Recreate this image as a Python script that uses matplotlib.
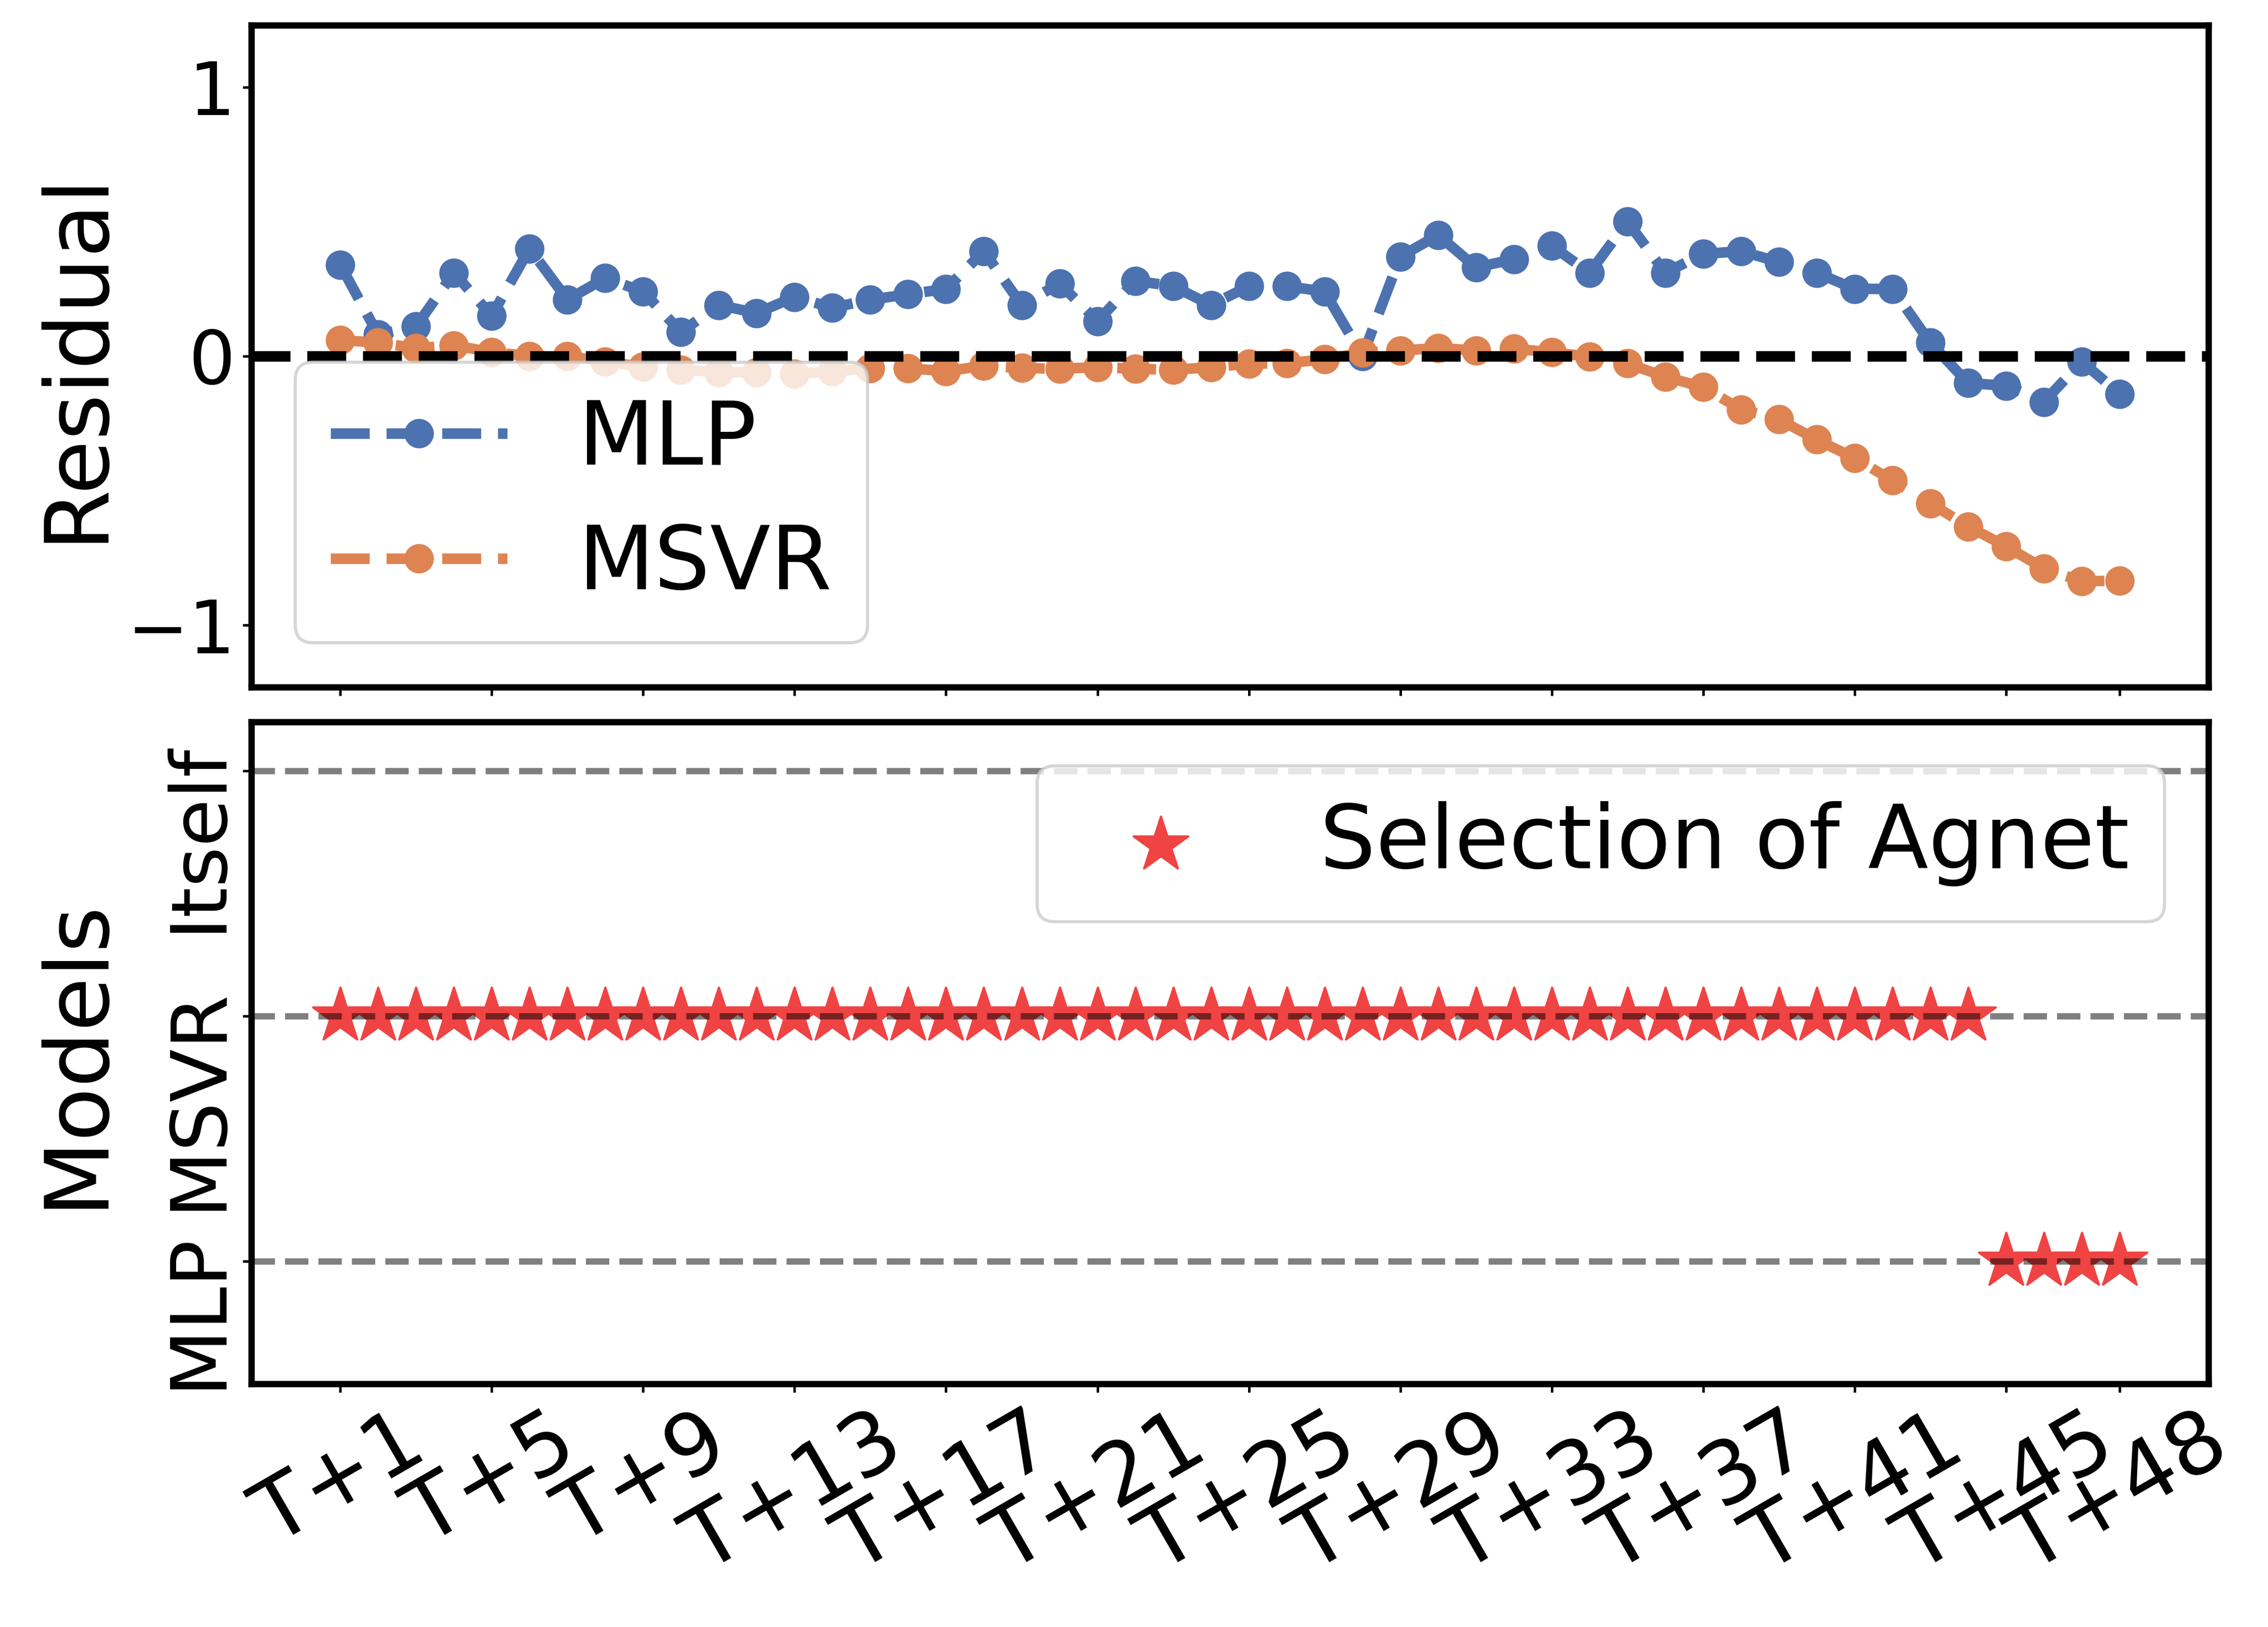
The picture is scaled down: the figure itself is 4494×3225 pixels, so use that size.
import numpy as np
import matplotlib.pyplot as plt
import matplotlib.transforms as mtransforms

# forecast horizons T+1 .. T+48
steps = np.arange(1, 49)
tick_steps = [1, 5, 9, 13, 17, 21, 25, 29, 33, 37, 41, 45, 48]
tick_labels = ['T+%d' % s for s in tick_steps]

mlp_resid = [0.34, 0.08, 0.11, 0.31, 0.15, 0.40, 0.21, 0.29, 0.24, 0.09,
             0.19, 0.16, 0.22, 0.18, 0.21, 0.23, 0.25, 0.39, 0.19, 0.27,
             0.13, 0.28, 0.26, 0.19, 0.26, 0.26, 0.24, 0.00, 0.37, 0.45,
             0.33, 0.36, 0.41, 0.31, 0.50, 0.31, 0.38, 0.39, 0.35, 0.31,
             0.25, 0.25, 0.05, -0.10, -0.11, -0.17, -0.02, -0.14]
msvr_resid = [0.06, 0.05, 0.03, 0.04, 0.015, 0.0, 0.0, -0.02, -0.04, -0.05,
              -0.06, -0.06, -0.065, -0.057, -0.045, -0.045, -0.056, -0.036, -0.044, -0.047,
              -0.041, -0.047, -0.051, -0.041, -0.028, -0.026, -0.012, 0.013, 0.021, 0.03,
              0.021, 0.028, 0.014, -0.002, -0.027, -0.077, -0.115, -0.198, -0.235, -0.31,
              -0.379, -0.462, -0.547, -0.633, -0.707, -0.789, -0.837, -0.834]

models = ['MLP', 'MSVR', 'Itself']
selected = ['MSVR', 'MSVR', 'MSVR', 'MSVR', 'MSVR', 'MSVR', 'MSVR', 'MSVR',
            'MSVR', 'MSVR', 'MSVR', 'MSVR', 'MSVR', 'MSVR', 'MSVR', 'MSVR',
            'MSVR', 'MSVR', 'MSVR', 'MSVR', 'MSVR', 'MSVR', 'MSVR', 'MSVR',
            'MSVR', 'MSVR', 'MSVR', 'MSVR', 'MSVR', 'MSVR', 'MSVR', 'MSVR',
            'MSVR', 'MSVR', 'MSVR', 'MSVR', 'MSVR', 'MSVR', 'MSVR', 'MSVR',
            'MSVR', 'MSVR', 'MSVR', 'MSVR', 'MLP', 'MLP', 'MLP', 'MLP']
sel_y = [models.index(m) for m in selected]

fig, (ax0, ax1) = plt.subplots(2, 1, sharex=True, figsize=(14.98, 10.75), dpi=300)
fig.subplots_adjust(left=0.1108, right=0.9738, top=0.9845, bottom=0.1495, hspace=0.0526)

ax0.plot(steps, mlp_resid, '--o', color='#4C72B0', lw=5, ms=13, label='MLP')
ax0.plot(steps, msvr_resid, '--o', color='#DD8452', lw=5, ms=13, label='MSVR')
ax0.axhline(0, color='k', ls='--', lw=5)
ax0.set_ylim(-1.23, 1.23)
ax0.set_yticks([-1, 0, 1])
ax0.set_ylabel('Residual', fontsize=42)
leg0 = ax0.legend(loc='lower left', fontsize=42, labelspacing=0.45)
leg0.get_frame().set_linewidth(1.5)

ax1.scatter(steps, sel_y, marker='*', s=750, color='#F04343', label='Selection of Agnet', zorder=1)
for i in range(len(models)):
    ax1.axhline(i, color='k', alpha=0.5, ls='--', lw=3)
ax1.set_yticks(range(len(models)))
ax1.set_yticklabels(models, rotation=90, va='top', fontsize=37)
ax1.set_ylim(-0.5, 2.2)
ax1.set_ylabel('Models', fontsize=42)
leg1 = ax1.legend(loc='upper right', fontsize=42)
leg1.get_frame().set_linewidth(1.5)

ax1.set_xticks(tick_steps)
ax1.set_xticklabels(tick_labels, rotation=30, fontsize=41)

for ax in (ax0, ax1):
    for sp in ax.spines.values():
        sp.set_linewidth(3)
    ax.tick_params(length=4, width=1.2)
ax0.tick_params(axis='y', labelsize=35)

# the model names sit mostly below their level line (after tick_params, which resets transforms)
shift = mtransforms.ScaledTranslation(0, 14 / 72, fig.dpi_scale_trans)
for lbl in ax1.get_yticklabels():
    lbl.set_transform(lbl.get_transform() + shift)

fig.align_ylabels()
fig.savefig('out.png', dpi=300)
